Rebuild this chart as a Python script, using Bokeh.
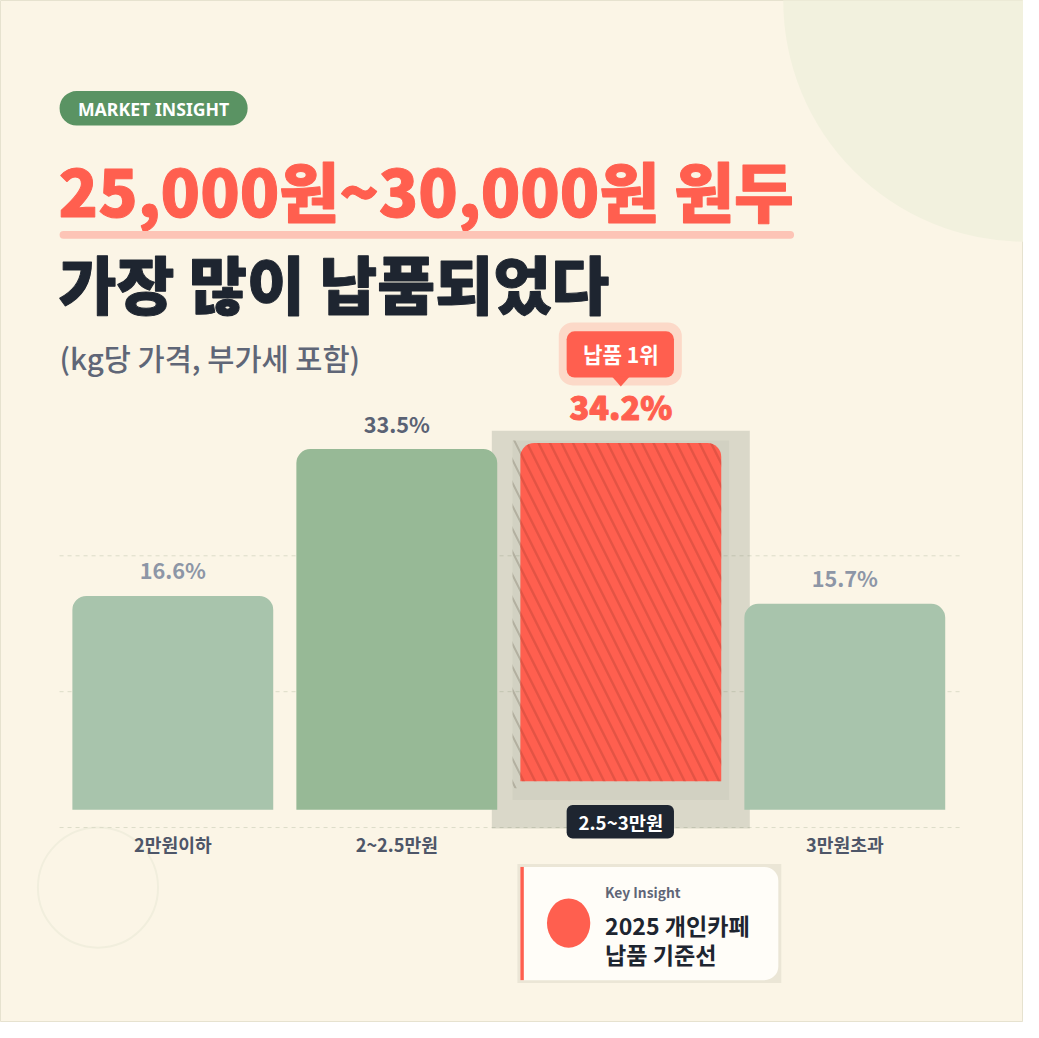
from bokeh.plotting import figure
from bokeh.models import Range1d
from bokeh.core.properties import value
from bokeh.embed import file_html
from bokeh.resources import INLINE

# data
categories = ["2만원이하", "2~2.5만원", "2.5~3만원", "3만원초과"]
shares = [16.6, 33.5, 34.2, 15.7]
share_labels = ["16.6%", "33.5%", "34.2%", "15.7%"]
top_index = 2

title_1 = "25,000원~30,000원 원두"
title_2 = "가장 많이 납품되었다"
subtitle = "(kg당 가격, 부가세 포함)"
badge_text = "납품 1위"
card_kicker = "Key Insight"
card_lines = ["2025 개인카페", "납품 기준선"]

# layout (reference page is 1039 x 1038, drawn into 1023 x 1022)
W_REF, H_REF = 1039, 1038
W, H = 1023, 1022
S = W / W_REF

BAR_X0 = 175.0      # page x of first bar centre
BAR_STEP = 227.5    # page px between bar centres
BAR_W = 204.0
BASE_Y = 822.0      # page y of bar floor
PX_PCT = 8.83       # page px per percent point
FLOOR = -8.0        # value at the bar floor
LIFT = 3.3          # highlighted bar is raised

BG = "#fbf5e6"
RED = "#ff5f4f"
DARK = "#1e2530"
GREY = "#5f6677"
bar_colors = ["#a8c4ac", "#97b996", RED, "#a8c4ac"]
label_colors = ["#8d96a6", "#5a6274", RED, "#8d96a6"]

SANS = "Noto Sans CJK KR"
HEAVY = "Noto Sans CJK KR Black, Noto Sans CJK KR"
MED = "Noto Sans CJK KR Medium, Noto Sans CJK KR"


def Y(y):
    return H_REF - y


def px(s):
    return f"{s * S:.1f}px"


p = figure(
    width=W,
    height=H,
    x_range=Range1d(0, W_REF),
    y_range=Range1d(0, H_REF),
    x_axis_type=None,
    y_axis_type=None,
    toolbar_location=None,
    output_backend="svg",
    min_border=0,
)
p.background_fill_color = BG
p.border_fill_color = BG
p.outline_line_color = "#e6e2cf"

p.extra_x_ranges["bars"] = Range1d(-BAR_X0 / BAR_STEP, (W_REF - BAR_X0) / BAR_STEP)
p.extra_y_ranges["pct"] = Range1d(
    FLOOR - (H_REF - BASE_Y) / PX_PCT, FLOOR + BASE_Y / PX_PCT
)

# background decoration
p.circle(x=[1040], y=[Y(0)], radius=245, fill_color="#f2f1de", line_color=None)
p.circle(x=[99], y=[Y(901)], radius=61, fill_color=None,
         line_color="#f1eedd", line_width=2)

# dashed guide lines
for gy in [564, 702, 840]:
    p.segment(x0=[60], y0=[Y(gy)], x1=[978], y1=[Y(gy)],
              line_color="#dcdcc8", line_width=1, line_dash="4 4")

# header
p.quad(left=[60], right=[251], top=[Y(92)], bottom=[Y(127)],
       fill_color="#5a9363", line_color=None, border_radius=17)
p.text(x=[155.5], y=[Y(110)], text=["MARKET INSIGHT"], text_color="white",
       text_font=value("Noto Sans"), text_font_style="bold",
       text_font_size=px(18), text_align="center", text_baseline="middle")

p.text(x=[59], y=[Y(191)], text=[title_1], text_color=RED,
       text_font=value(HEAVY), text_font_style="bold",
       text_font_size=px(66), text_baseline="middle",
       text_outline_color=RED)
p.quad(left=[60], right=[806], top=[Y(234)], bottom=[Y(242)],
       fill_color="#fdc4b6", line_color=None, border_radius=4)
p.text(x=[59], y=[Y(285)], text=[title_2], text_color=DARK,
       text_font=value(HEAVY), text_font_style="bold",
       text_font_size=px(64), text_baseline="middle",
       text_outline_color=DARK)
p.text(x=[60], y=[Y(362)], text=[subtitle], text_color=GREY,
       text_font=value(MED), text_font_size=px(30), text_baseline="middle")

# highlight panel behind the top bar
cx = BAR_X0 + BAR_STEP * top_index
p.quad(left=[cx - 131], right=[cx + 131], top=[Y(437)], bottom=[Y(841)],
       fill_color="#5b6455", fill_alpha=0.2, line_color=None)
p.quad(left=[cx - 110], right=[cx + 110], top=[Y(447)], bottom=[Y(812)],
       fill_color="#5b6455", fill_alpha=0.06, line_color=None)
p.quad(left=[cx - 110], right=[cx - 100], top=[Y(447)], bottom=[Y(800)],
       fill_alpha=0, line_color=None,
       hatch_pattern="\\", hatch_color="#9e9a88", hatch_alpha=0.6,
       hatch_scale=23, hatch_weight=2)

# bars
idx = list(range(len(categories)))
rest = [i for i in idx if i != top_index]
p.vbar(x=rest, top=[shares[i] for i in rest], bottom=FLOOR,
       width=BAR_W / BAR_STEP, fill_color=[bar_colors[i] for i in rest],
       line_color=None, border_radius=(14, 14, 0, 0),
       x_range_name="bars", y_range_name="pct")
p.vbar(x=[top_index], top=[shares[top_index]], bottom=FLOOR + LIFT,
       width=BAR_W / BAR_STEP, fill_color=RED, line_color=None,
       border_radius=(14, 14, 0, 0), hatch_pattern="\\",
       hatch_color="#c9473a", hatch_alpha=0.5, hatch_scale=23,
       hatch_weight=2.5, x_range_name="bars", y_range_name="pct")

# value labels
p.text(x=rest, y=[shares[i] for i in rest], text=[share_labels[i] for i in rest],
       text_color=[label_colors[i] for i in rest], text_font=value(SANS),
       text_font_style="bold", text_font_size=px(22), text_align="center",
       text_baseline="middle", y_offset=-26,
       x_range_name="bars", y_range_name="pct")
p.text(x=[top_index], y=[shares[top_index]], text=[share_labels[top_index]],
       text_color=RED, text_font=value(HEAVY), text_font_style="bold",
       text_font_size=px(33), text_align="center", text_baseline="middle",
       y_offset=-37, text_outline_color=RED,
       x_range_name="bars", y_range_name="pct")

# category labels
p.text(x=rest, y=[FLOOR] * len(rest), text=[categories[i] for i in rest],
       text_color="#4e5668", text_font=value(SANS), text_font_style="bold",
       text_font_size=px(18.5), text_align="center", text_baseline="middle",
       y_offset=34, x_range_name="bars", y_range_name="pct")
p.quad(left=[cx - 55], right=[cx + 54], top=[Y(817)], bottom=[Y(851)],
       fill_color=DARK, line_color=None, border_radius=6)
p.text(x=[cx], y=[Y(834)], text=[categories[top_index]], text_color="white",
       text_font=value(SANS), text_font_style="bold", text_font_size=px(19),
       text_align="center", text_baseline="middle")

# "1st" badge
p.quad(left=[cx - 63], right=[cx + 62], top=[Y(327)], bottom=[Y(391)],
       fill_color="#fcd9c8", line_color=None, border_radius=14)
p.quad(left=[cx - 55], right=[cx + 54], top=[Y(336)], bottom=[Y(383)],
       fill_color=RED, line_color=None, border_radius=8)
p.patch(x=[cx - 9, cx + 9, cx], y=[Y(382), Y(382), Y(392)],
        fill_color=RED, line_color=None)
p.text(x=[cx], y=[Y(359)], text=[badge_text], text_color="white",
       text_font=value(SANS), text_font_style="bold", text_font_size=px(21.5),
       text_align="center", text_baseline="middle")

# insight card
p.quad(left=[525], right=[793], top=[Y(877)], bottom=[Y(998)],
       fill_color="#ebe6d6", line_color=None)
p.quad(left=[528], right=[790], top=[Y(880)], bottom=[Y(995)],
       fill_color="#fffdf8", line_color=None, border_radius=(0, 14, 14, 0))
p.quad(left=[528], right=[531.5], top=[Y(880)], bottom=[Y(995)],
       fill_color=RED, line_color=None)
p.ellipse(x=[577], y=[Y(937)], width=44, height=50, fill_color=RED,
          line_color=None)
p.text(x=[614], y=[Y(905)], text=[card_kicker], text_color=GREY,
       text_font=value(SANS), text_font_style="bold", text_font_size=px(14),
       text_baseline="middle")
p.text(x=[614, 614], y=[Y(939), Y(968)], text=card_lines, text_color=DARK,
       text_font=value(SANS), text_font_style="bold", text_font_size=px(23.5),
       text_baseline="middle")

open("out.html", "w").write(file_html(p, INLINE))
